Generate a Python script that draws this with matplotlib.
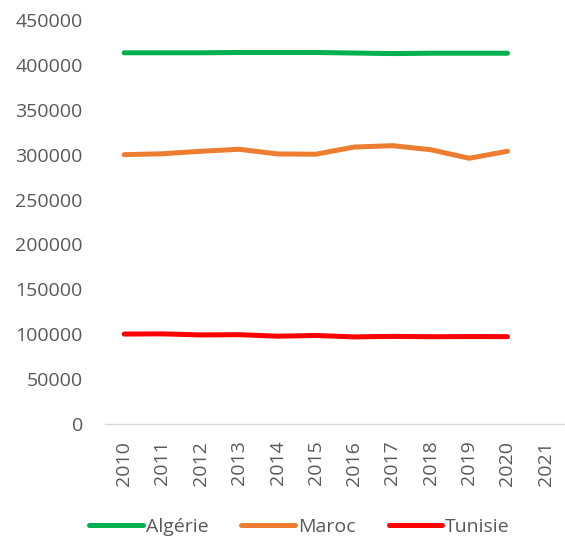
import matplotlib.pyplot as plt

# Data
years = ['2010', '2011', '2012', '2013', '2014', '2015', '2016', '2017', '2018', '2019', '2020', '2021']
algerie = [413500, 413500, 413500, 413800, 413800, 413800, 413200, 412600, 413000, 413000, 413000]
maroc = [300000, 301000, 303800, 306000, 300800, 300500, 308500, 310000, 305500, 296000, 303800]
tunisie = [100200, 100400, 99200, 99500, 97800, 98600, 97000, 97600, 97200, 97400, 97300]

plt.rcParams['font.family'] = ['Open Sans', 'DejaVu Sans']
text_color = '#595959'

fig = plt.figure(figsize=(5.65, 5.40), dpi=100)
ax = fig.add_axes([105 / 565, 116 / 540, 460 / 565, 404 / 540])

x = list(range(len(years)))
ax.plot(x[:len(algerie)], algerie, color='#00B050', linewidth=3.6,
        solid_capstyle='round', label='Algérie')
ax.plot(x[:len(maroc)], maroc, color='#ED7D31', linewidth=3.6,
        solid_capstyle='round', label='Maroc')
ax.plot(x[:len(tunisie)], tunisie, color='#FF0000', linewidth=3.6,
        solid_capstyle='round', label='Tunisie')

ax.set_xlim(-0.5, len(years) - 0.5)
ax.set_ylim(0, 450000)
ax.set_yticks(range(0, 450001, 50000))
ax.set_xticks(x)
ax.set_xticklabels(years, rotation=90)

for side in ['top', 'right', 'left']:
    ax.spines[side].set_visible(False)
ax.spines['bottom'].set_color('#D9D9D9')
ax.spines['bottom'].set_linewidth(1.0)

ax.tick_params(axis='y', length=0, pad=16, labelsize=14, labelcolor=text_color)
ax.tick_params(axis='x', length=0, pad=12, labelsize=14, labelcolor=text_color)

fig.legend(loc='lower center', bbox_to_anchor=(0.53, -0.025), ncol=3,
           frameon=False, fontsize=14, handlelength=2.75, handletextpad=0.15,
           columnspacing=1.7, labelcolor=text_color)

fig.savefig('out.png', dpi=100)
